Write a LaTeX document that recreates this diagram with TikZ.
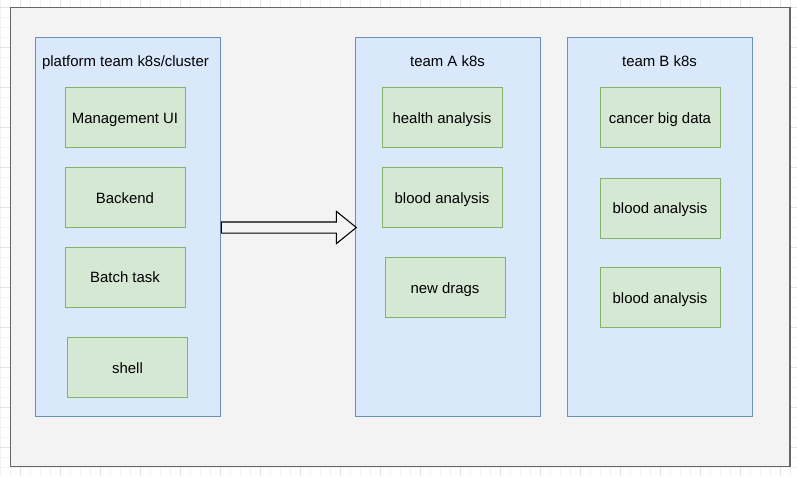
\documentclass[tikz,border=0pt]{standalone}
\usepackage{fontspec}
\setmainfont{Liberation Sans}
\usetikzlibrary{positioning,shapes.arrows}
\definecolor{bluefill}{HTML}{DAE8FC}
\definecolor{blueline}{HTML}{6C8EBF}
\definecolor{greenfill}{HTML}{D5E8D4}
\definecolor{greenline}{HTML}{82B366}
\definecolor{outerfill}{HTML}{F3F3F3}
\definecolor{outerline}{HTML}{666666}

\begin{document}
\begin{tikzpicture}[x=0.75pt,y=-0.75pt,
  font=\fontsize{11.2}{13}\selectfont,
  cluster/.style={draw=blueline,fill=bluefill,minimum width=138.75pt,minimum height=284.25pt,inner sep=0pt},
  svc/.style={draw=greenline,fill=greenfill,minimum width=90pt,minimum height=45pt,inner sep=0pt,
    text height=9.5pt,text depth=0.9pt},
  title/.style={inner sep=0pt,text height=9.5pt,text depth=0.9pt}]
\useasboundingbox (0,0) rectangle (797,476);
\fill[white] (0,0) rectangle (797,476);
% draw.io style grid behind the canvas
\begin{scope}[shift={(20,7)}]
\draw[black!5,line width=0.5pt] (-20,-7) grid[step=7.5pt] (777,469);
\draw[black!11,line width=0.5pt] (-20,-7) grid[step=30pt] (777,469);
\end{scope}
\draw[outerline,fill=outerfill,line width=0.9pt] (10.5,7.5) rectangle (790,466.5);

% clusters
\node[cluster] (platform) at (128,227.25) {};
\node[cluster] (teamA) at (447.5,227.25) {};
\node[cluster] (teamB) at (659.5,227.25) {};
\node[title] (platformT) at (125.5,61) {platform team k8s/cluster};
\node[title] (teamAT) at (447.5,61) {team A k8s};
\node[title] (teamBT) at (659.5,61) {team B k8s};

% platform services
\node[svc] (mgmt) at (125,117.5) {Management UI};
\node[svc] (backend) at (125,197.5) {Backend};
\node[svc] (batch) at (125,277) {Batch task};
\node[svc] (shell) at (127.5,367.5) {shell};

% team A services
\node[svc] (healthA) at (442,117.5) {health analysis};
\node[svc] (bloodA) at (442,197.5) {blood analysis};
\node[svc] (drags) at (445,287.5) {new drags};

% team B services
\node[svc] (cancer) at (660,117.5) {cancer big data};
\node[svc] (bloodB1) at (660,208) {blood analysis};
\node[svc] (bloodB2) at (660,297.5) {blood analysis};

% migration arrow
\node[single arrow,draw=black,fill=outerfill,line width=0.8pt,
  minimum height=101.25pt,inner xsep=0pt,inner ysep=3.75pt,
  single arrow head extend=7.9pt,single arrow tip angle=78,anchor=tail]
  (move) at (platform.east |- 0,227.5) {};
\end{tikzpicture}
\end{document}
